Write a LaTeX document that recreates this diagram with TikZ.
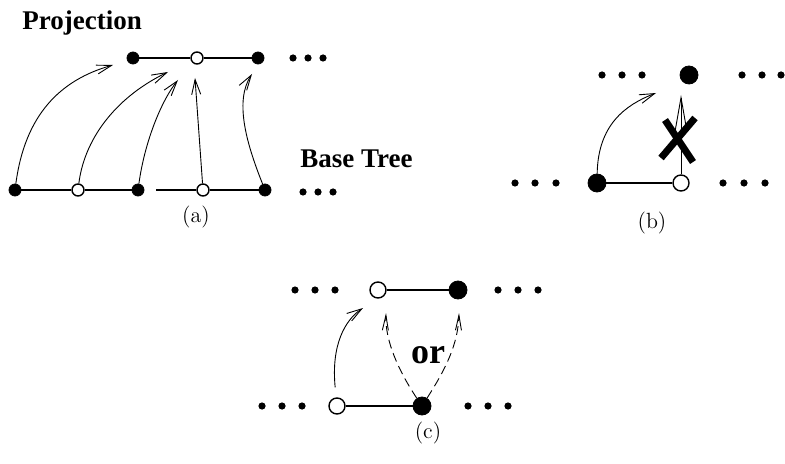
\documentclass[tikz,border=0pt]{standalone}
\usepackage{fontspec}
\newfontfamily\timesfont{Liberation Serif}
\usetikzlibrary{arrows.meta}

\begin{document}
\begin{tikzpicture}[x=0.5pt, y=-0.5pt,
    full/.style = {draw, circle, fill, inner sep=0pt, minimum size=6pt},
    hollow/.style = {draw, circle, fill=white, inner sep=0pt, minimum size=6pt, line width=0.7pt},
    large/.style = {minimum size=9pt},
    medium/.style = {minimum size=8pt},
    dot/.style = {circle, fill, inner sep=0pt, minimum size=3.6pt},
    link/.style = {line width=1pt},
    proj/.style = {-{Straight Barb[length=7.5pt, width=4.5pt]}, line width=0.45pt},
    maybe/.style = {-{Straight Barb[length=7.5pt, width=3pt]}, line width=0.45pt, dash pattern=on 4.5pt off 2.5pt},
    caption/.style = {font=\fontsize{11}{13}\selectfont},
    title/.style = {font=\timesfont\bfseries\fontsize{13.5}{16}\selectfont, inner sep=0pt}]
  \useasboundingbox (0,0) rectangle (785,464);

  % (a) projection over the base tree
  \node[title, anchor=base west] (projlbl) at (22,30) {Projection};
  \node[title, anchor=base west] (baselbl) at (300,168) {Base Tree};
  \node[full] (p1) at (133,58) {};
  \node[hollow] (p2) at (197,58) {};
  \node[full] (p3) at (258,58) {};
  \foreach \x in {293,308,323} \node[dot] at (\x,58) {};
  \draw[link] (p1) -- (p2);
  \draw[link] (p2) -- (p3);
  \node[full] (b1) at (15,190) {};
  \node[hollow] (b2) at (78,190) {};
  \node[full] (b3) at (138,190) {};
  \node[hollow] (b4) at (203,190) {};
  \node[full] (b5) at (265,190) {};
  \foreach \x in {303,318,333} \node[dot] at (\x,192) {};
  \draw[link] (b1) -- (b2);
  \draw[link] (b2) -- (b3);
  \draw[link, shorten <=6pt] (b3) -- (b4);
  \draw[link] (b4) -- (b5);
  \coordinate (t1) at (113,65);
  \coordinate (t2) at (168,72);
  \coordinate (t3) at (178,80);
  \coordinate (t4) at (195,78);
  \coordinate (t5) at (252,74);
  \draw[proj] (b1) .. controls (25,115) and (60,80) .. (t1);
  \draw[proj] (b2) .. controls (85,135) and (120,95) .. (t2);
  \draw[proj] (b3) .. controls (145,140) and (162,100) .. (t3);
  \draw[proj] (b4) -- (t4);
  \draw[proj] (b5) .. controls (245,140) and (235,100) .. (t5);
  \node[caption] (capa) at (196,217) {(a)};

  % (b) forbidden projection
  \foreach \x in {602,622,642} \node[dot] at (\x,75) {};
  \node[full, large] (bp) at (689,75) {};
  \foreach \x in {742,762,781} \node[dot] at (\x,75) {};
  \foreach \x in {515,535,556} \node[dot] at (\x,183) {};
  \node[full, large] (bf) at (597,183) {};
  \node[hollow, medium] (bo) at (681,183) {};
  \foreach \x in {723,744,765} \node[dot] at (\x,183) {};
  \draw[link] (bf) -- (bo);
  \coordinate (tb1) at (656,93);
  \coordinate (tb2) at (681,95);
  \draw[proj] (bf) .. controls (598,125) and (625,105) .. (tb1);
  \draw[-{Straight Barb[length=17pt, width=6pt]}, line width=0.45pt] (bo) -- (tb2);
  \draw[line width=3.5pt] (661,158) -- (695,118);
  \draw[line width=3.5pt] (665,120) -- (693,162);
  \node[caption] (capb) at (652,223) {(b)};

  % (c) either choice
  \foreach \x in {295,315,335} \node[dot] at (\x,290) {};
  \node[hollow, medium] (co1) at (378,290) {};
  \node[full, large] (cf1) at (458,290) {};
  \foreach \x in {498,518,538} \node[dot] at (\x,290) {};
  \draw[link] (co1) -- (cf1);
  \foreach \x in {262,282,302} \node[dot] at (\x,406) {};
  \node[hollow, medium] (co2) at (337,406) {};
  \node[full, large] (cf2) at (422,406) {};
  \foreach \x in {468,488,508} \node[dot] at (\x,406) {};
  \draw[link] (co2) -- (cf2);
  \coordinate (tc1) at (363,308);
  \coordinate (tc2) at (386,313);
  \coordinate (tc3) at (459,313);
  \draw[proj, shorten <=5pt] (co2) .. controls (331,345) and (345,320) .. (tc1);
  \draw[maybe] (cf2) .. controls (398,370) and (385,340) .. (tc2);
  \draw[maybe] (cf2) .. controls (445,370) and (458,345) .. (tc3);
  \node[font=\timesfont\bfseries\fontsize{18}{20}\selectfont] (or) at (428,355) {or};
  \node[caption] (capc) at (428,433) {(c)};
\end{tikzpicture}
\end{document}
